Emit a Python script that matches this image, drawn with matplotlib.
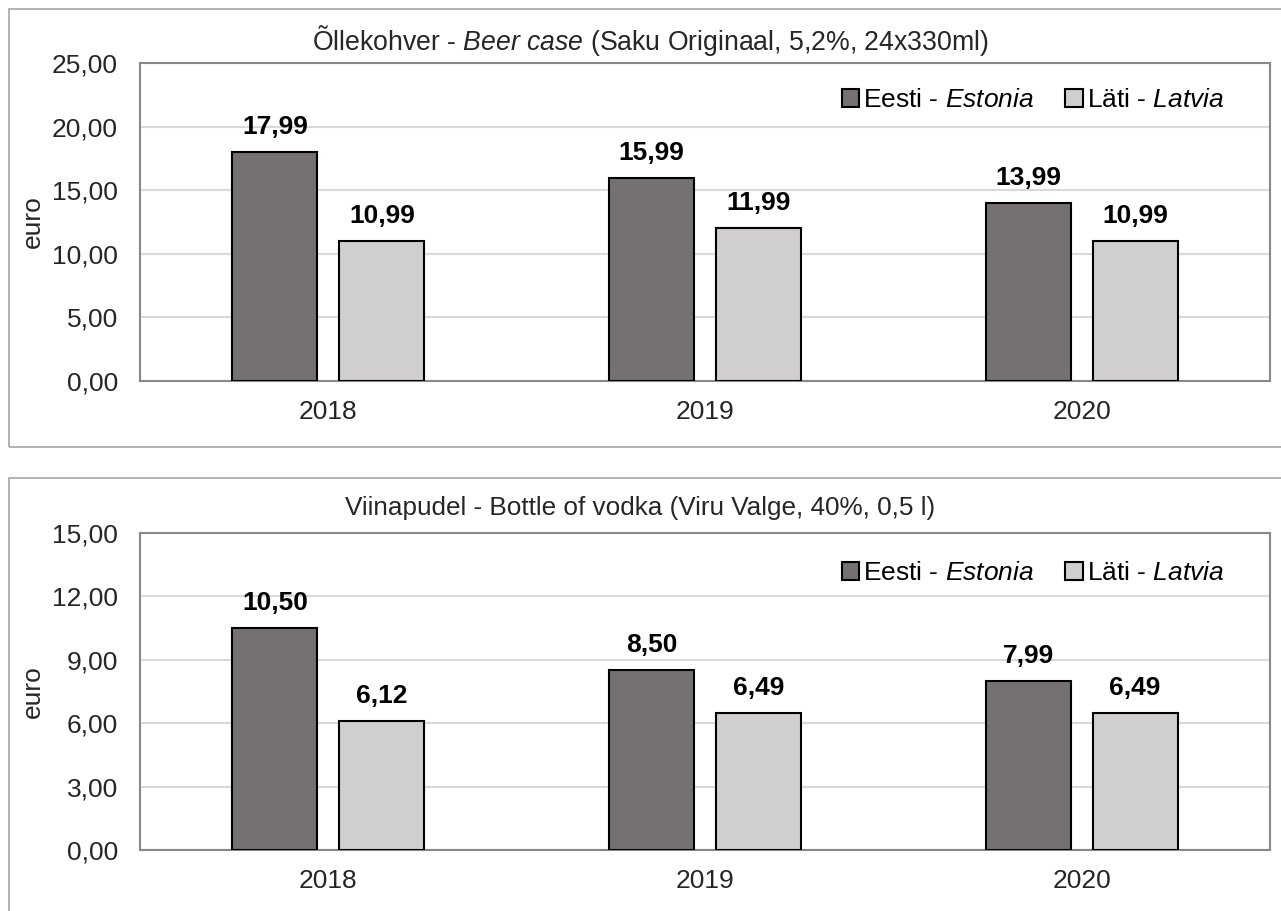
import numpy as np
import matplotlib
matplotlib.use('Agg')
import matplotlib.pyplot as plt
from matplotlib.patches import Rectangle
from matplotlib.ticker import FuncFormatter

plt.rcParams['font.family'] = ['Liberation Sans', 'DejaVu Sans']
plt.rcParams['mathtext.fontset'] = 'custom'
plt.rcParams['mathtext.rm'] = 'Liberation Sans'
plt.rcParams['mathtext.it'] = 'Liberation Sans:italic'

# andmed
years = ['2018', '2019', '2020']
beer_estonia = [17.99, 15.99, 13.99]
beer_latvia = [10.99, 11.99, 10.99]
vodka_estonia = [10.50, 8.50, 7.99]
vodka_latvia = [6.12, 6.49, 6.49]

beer_title = r'Õllekohver - $\mathit{Beer\ case}$ (Saku Originaal, 5,2%, 24x330ml)'
vodka_title = 'Viinapudel - Bottle of vodka (Viru Valge, 40%, 0,5 l)'
label_est = r'Eesti - $\mathit{Estonia}$'
label_lat = r'Läti - $\mathit{Latvia}$'

C_EST = '#767171'
C_LAT = '#d0cece'
FS = 19
W = 1281
H = 911


def comma(v, pos=None):
    return f'{v:.2f}'.replace('.', ',')


def draw_panel(fig, box, ax_rect, legend_y, est, lat, ymax, step):
    # raam ümber graafiku
    fig.patches.append(Rectangle((box[0], box[1]), box[2], box[3], transform=fig.transFigure,
                                 fill=False, edgecolor='#a6a6a6', linewidth=1.2))
    ax = fig.add_axes(ax_rect)
    x = np.arange(len(years))
    off = 0.142
    bw = 0.226
    b1 = ax.bar(x - off, est, bw, color=C_EST, edgecolor='black', linewidth=1.5, label=label_est, zorder=3)
    b2 = ax.bar(x + off, lat, bw, color=C_LAT, edgecolor='black', linewidth=1.5, label=label_lat, zorder=3)
    for bars, vals in ((b1, est), (b2, lat)):
        for b, v in zip(bars, vals):
            ax.annotate(comma(v), (b.get_x() + b.get_width() / 2, v), xytext=(0, 18),
                        textcoords='offset points', ha='center', va='center',
                        fontsize=FS, fontweight='bold', color='black')
    ax.set_xlim(-0.5, 2.5)
    ax.set_ylim(0, ymax)
    ax.set_yticks(np.arange(0, ymax + 0.01, step))
    ax.yaxis.set_major_formatter(FuncFormatter(comma))
    ax.set_xticks(x)
    ax.set_xticklabels(years)
    ax.tick_params(axis='both', length=0, labelsize=FS, colors='#262626')
    ax.tick_params(axis='y', pad=16)
    ax.tick_params(axis='x', pad=14)
    ax.grid(axis='y', color='#d9d9d9', linewidth=1.5, zorder=0)
    ax.set_axisbelow(True)
    for s in ax.spines.values():
        s.set_color('#888888')
        s.set_linewidth(1.5)
    ax.legend(ncol=2, frameon=False, fontsize=FS, handlelength=0.65, handleheight=0.65,
              handletextpad=0.15, columnspacing=1.2, borderpad=0, borderaxespad=0,
              loc='center right', bbox_to_anchor=(1224 / W, 1 - legend_y / H),
              bbox_transform=fig.transFigure)
    fig.text(33 / W, ax_rect[1] + ax_rect[3] / 2, 'euro', rotation=90, ha='center', va='center',
             fontsize=FS, color='#262626')
    return ax


fig = plt.figure(figsize=(W / 100, H / 100), dpi=100)

ax1 = draw_panel(fig, (9 / W, 1 - 447 / H, 1.02, 438 / H),
                 (140 / W, 1 - 381 / H, 1130 / W, 318 / H), 100,
                 beer_estonia, beer_latvia, 25, 5)
fig.text(650 / W, 1 - 40 / H, beer_title, ha='center', va='center', fontsize=19.2, color='#262626')

ax2 = draw_panel(fig, (9 / W, -0.05, 1.02, 1 - 478 / H + 0.05),
                 (140 / W, 1 - 850 / H, 1130 / W, 317 / H), 573,
                 vodka_estonia, vodka_latvia, 15, 3)
fig.text(640 / W, 1 - 508 / H, vodka_title, ha='center', va='center', fontsize=18.8, color='#262626')

fig.savefig('out.png', dpi=100)
